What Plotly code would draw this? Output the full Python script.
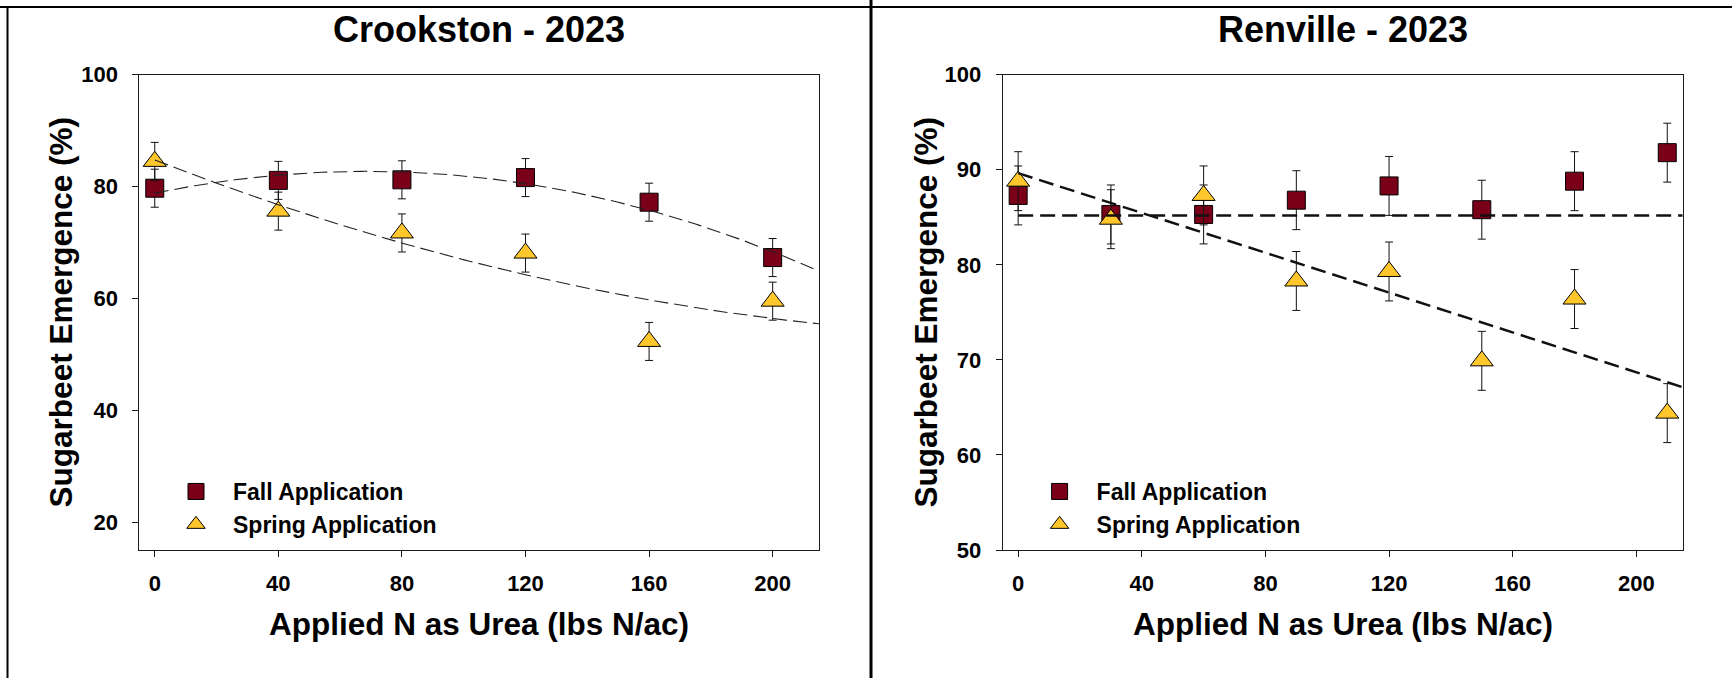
import numpy as np
import plotly.graph_objects as go

# ---- Crookston 2023: emergence (%) by applied N rate ----
crk_rate = [0, 40, 80, 120, 160, 200]
crk_fall = [79.7, 81.1, 81.2, 81.6, 77.2, 67.3]
crk_fall_se = [3.4, 3.4, 3.4, 3.4, 3.4, 3.4]
crk_spring = [84.5, 75.6, 71.7, 68.1, 52.3, 59.5]
crk_spring_se = [3.4, 3.4, 3.4, 3.4, 3.4, 3.4]

# ---- Renville 2023 ----
ren_rate = [0, 30, 60, 90, 120, 150, 180, 210]
ren_fall = [87.3, 85.3, 85.3, 86.8, 88.3, 85.8, 88.8, 91.8]
ren_fall_se = [3.1, 3.1, 3.1, 3.1, 3.1, 3.1, 3.1, 3.1]
ren_spring = [88.8, 84.8, 87.3, 78.3, 79.3, 69.9, 76.4, 64.4]
ren_spring_se = [3.1, 3.1, 3.1, 3.1, 3.1, 3.1, 3.1, 3.1]
ren_fall_level = 85.2          # fall response: no rate effect

x_ticks = [0, 40, 80, 120, 160, 200]
crk_y_ticks = [20, 40, 60, 80, 100]
ren_y_ticks = [50, 60, 70, 80, 90, 100]

MAROON = "#7A0019"
GOLD = "#FFC72C"
FONT = "Arial, Liberation Sans, sans-serif"

W, H = 1732, 678


def px(x):
    return x / W


def py(y):
    return 1 - y / H


fig = go.Figure()


def add_points(x, y, se, name, symbol, color, size, xa, ya, legend):
    fig.add_trace(go.Scatter(
        x=x, y=y, mode="markers", name=name,
        marker=dict(symbol=symbol, size=size, color=color,
                    line=dict(color="black", width=1)),
        error_y=dict(type="data", array=se, visible=True,
                     color="#111111", thickness=1, width=4),
        xaxis=xa, yaxis=ya, legend=legend,
    ))


def add_fit(x, y, xa, ya, width, color, dash):
    fig.add_trace(go.Scatter(
        x=x, y=y, mode="lines", showlegend=False, hoverinfo="skip",
        line=dict(color=color, width=width, dash=dash),
        xaxis=xa, yaxis=ya,
    ))


# Crookston markers
add_points(crk_rate, crk_fall, crk_fall_se, "Fall Application", "square",
           MAROON, 18, "x", "y", "legend")
add_points(crk_rate, crk_spring, crk_spring_se, "Spring Application",
           "triangle-up", GOLD, 20, "x", "y", "legend")

# Crookston quadratic fits
xf = np.linspace(0, 215, 200)
for vals in (crk_fall, crk_spring):
    coef = np.polyfit(crk_rate, vals, 2)
    add_fit(xf, np.polyval(coef, xf), "x", "y", 1.1, "#222222", "14px,6px")

# Renville markers
add_points(ren_rate, ren_fall, ren_fall_se, "Fall Application", "square",
           MAROON, 18, "x2", "y2", "legend2")
add_points(ren_rate, ren_spring, ren_spring_se, "Spring Application",
           "triangle-up", GOLD, 20, "x2", "y2", "legend2")

# Renville fits: flat for fall, linear for spring
add_fit([0, 215], [ren_fall_level, ren_fall_level], "x2", "y2", 2.5,
        "#111111", "15px,7px")
lin = np.polyfit(ren_rate, ren_spring, 1)
add_fit(xf, np.polyval(lin, xf), "x2", "y2", 2.5, "#111111", "15px,7px")

tickfont = dict(family=FONT, size=22, color="black", weight="bold")
axis_common = dict(showline=True, linecolor="#1a1a1a", linewidth=1, mirror=True,
                   ticks="outside", ticklen=6, tickwidth=1, tickcolor="#1a1a1a",
                   showgrid=False, zeroline=False, tickfont=tickfont,
                   automargin=False)

legend_font = dict(family=FONT, size=23, color="black", weight="bold")
ydom = [py(550), py(74.7)]
fig.update_layout(
    width=W, height=H,
    margin=dict(l=0, r=0, t=0, b=0, autoexpand=False),
    paper_bgcolor="white", plot_bgcolor="white",
    xaxis=dict(domain=[px(139.3), px(819)], range=[-5, 215], tickvals=x_ticks,
               ticklabelstandoff=8, anchor="y", **axis_common),
    yaxis=dict(domain=ydom, range=[15, 100], tickvals=crk_y_ticks,
               ticklabelstandoff=10, anchor="x", **axis_common),
    xaxis2=dict(domain=[px(1002.7), px(1682.7)], range=[-5, 215], tickvals=x_ticks,
                ticklabelstandoff=8, anchor="y2", **axis_common),
    yaxis2=dict(domain=ydom, range=[50, 100], tickvals=ren_y_ticks,
                ticklabelstandoff=10, anchor="x2", **axis_common),
    legend=dict(x=px(159), y=py(508), xanchor="left", yanchor="middle",
                bgcolor="rgba(0,0,0,0)", itemwidth=64, font=legend_font),
    legend2=dict(x=px(1022.6), y=py(508), xanchor="left", yanchor="middle",
                 bgcolor="rgba(0,0,0,0)", itemwidth=64, font=legend_font),
    showlegend=True,
)

title_font = dict(family=FONT, size=36, color="black", weight="bold")
axis_title_font = dict(family=FONT, size=31.5, color="black", weight="bold")
annotations = []
for cx, ax_x, title in ((479.2, 61, "Crookston - 2023"),
                        (1342.7, 926, "Renville - 2023")):
    annotations.append(dict(text=title, x=px(cx), y=py(30), xref="paper",
                            yref="paper", showarrow=False, xanchor="center",
                            yanchor="middle", font=title_font))
    annotations.append(dict(text="Applied N as Urea (lbs N/ac)", x=px(cx),
                            y=py(624), xref="paper", yref="paper",
                            showarrow=False, xanchor="center", yanchor="middle",
                            font=axis_title_font))
    annotations.append(dict(text="Sugarbeet Emergence (%)", x=px(ax_x),
                            y=py(312.4), xref="paper", yref="paper",
                            showarrow=False, xanchor="center", yanchor="middle",
                            textangle=-90, font=axis_title_font))
fig.update_layout(annotations=annotations)

# Panel frames
frame = dict(type="line", xref="paper", yref="paper", line=dict(color="black"))
fig.update_layout(shapes=[
    dict(frame, x0=0, x1=1, y0=py(7), y1=py(7), line=dict(color="black", width=2)),
    dict(frame, x0=px(7.5), x1=px(7.5), y0=0, y1=py(7), line=dict(color="black", width=2)),
    dict(frame, x0=px(871), x1=px(871), y0=0, y1=1, line=dict(color="black", width=3)),
])

fig.write_html("out.html")
